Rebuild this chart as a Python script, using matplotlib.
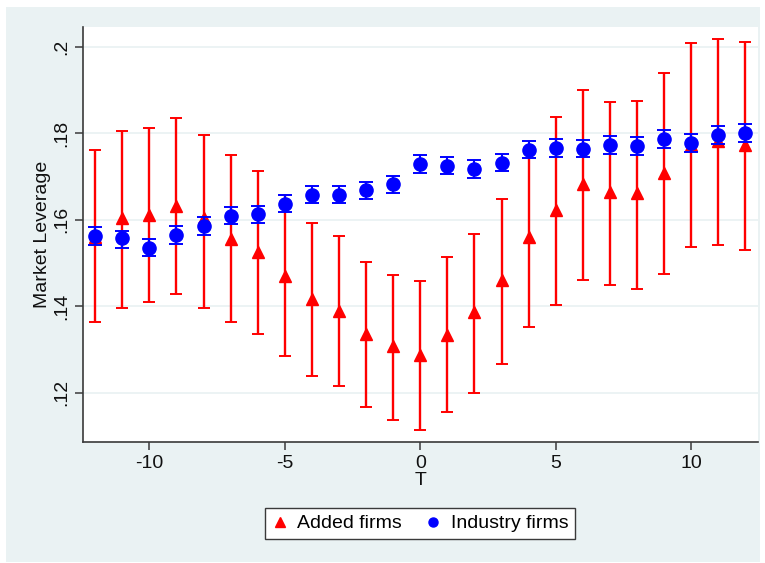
import numpy as np
import matplotlib.pyplot as plt
from matplotlib.lines import Line2D
from matplotlib.patches import Rectangle

plt.rcParams['font.family'] = ['Liberation Sans', 'DejaVu Sans']

# event time
t = list(range(-12, 13))

# added firms: mean and confidence band
added_mean = [0.1561, 0.1604, 0.1612, 0.1632, 0.1605, 0.1556, 0.1525, 0.1469,
              0.1417, 0.1390, 0.1336, 0.1307, 0.1288, 0.1334, 0.1386, 0.1460,
              0.1561, 0.1622, 0.1683, 0.1663, 0.1662, 0.1709, 0.1772, 0.1783, 0.1772]
added_hi = [0.1762, 0.1806, 0.1811, 0.1834, 0.1795, 0.1750, 0.1713, 0.1658,
            0.1592, 0.1563, 0.1503, 0.1472, 0.1459, 0.1514, 0.1567, 0.1648,
            0.1765, 0.1837, 0.1899, 0.1871, 0.1875, 0.1938, 0.2009, 0.2018, 0.2011]
added_lo = [0.1363, 0.1396, 0.1409, 0.1429, 0.1396, 0.1363, 0.1336, 0.1286,
            0.1239, 0.1215, 0.1168, 0.1138, 0.1115, 0.1155, 0.1199, 0.1266,
            0.1351, 0.1403, 0.1461, 0.1450, 0.1441, 0.1474, 0.1538, 0.1542, 0.1531]

# industry firms: mean and confidence band
ind_mean = [0.1563, 0.1557, 0.1535, 0.1565, 0.1586, 0.1609, 0.1613, 0.1637,
            0.1658, 0.1658, 0.1668, 0.1683, 0.1729, 0.1725, 0.1717, 0.1732,
            0.1762, 0.1766, 0.1764, 0.1773, 0.1770, 0.1787, 0.1777, 0.1796, 0.1800]
ind_hi = [0.1583, 0.1575, 0.1556, 0.1585, 0.1606, 0.1629, 0.1632, 0.1658,
          0.1677, 0.1677, 0.1687, 0.1702, 0.1749, 0.1745, 0.1737, 0.1752,
          0.1782, 0.1786, 0.1784, 0.1794, 0.1791, 0.1808, 0.1798, 0.1817, 0.1821]
ind_lo = [0.1542, 0.1535, 0.1515, 0.1543, 0.1564, 0.1589, 0.1593, 0.1617,
          0.1638, 0.1638, 0.1648, 0.1662, 0.1709, 0.1705, 0.1697, 0.1712,
          0.1742, 0.1746, 0.1744, 0.1752, 0.1749, 0.1765, 0.1756, 0.1775, 0.1779]

yticks = [0.12, 0.14, 0.16, 0.18, 0.2]
ytick_labels = ['.12', '.14', '.16', '.18', '.2']
xticks = [-10, -5, 0, 5, 10]

BG = '#EAF2F3'
AXC = '#3a3a3a'
FS = 14

fig = plt.figure(figsize=(7.65, 5.63), dpi=100, facecolor='white')
# graph region behind the plot area
region = Rectangle((6 / 765, 1 - 562 / 563), 754 / 765, 555 / 563,
                   transform=fig.transFigure, facecolor=BG,
                   edgecolor='none', zorder=-10)
fig.add_artist(region)
ax = fig.add_axes([83 / 765, 1 - 441.7 / 563, 674.5 / 765, 415 / 563])
ax.set_zorder(1)
ax.set_facecolor('white')

a_mean = np.array(added_mean)
a_err = [a_mean - np.array(added_lo), np.array(added_hi) - a_mean]
ax.errorbar(t, a_mean, yerr=a_err, fmt='^', color='red', ecolor='red',
            markersize=9, elinewidth=1.7, capsize=4.3, capthick=1.4, zorder=3)

i_mean = np.array(ind_mean)
i_err = [i_mean - np.array(ind_lo), np.array(ind_hi) - i_mean]
ax.errorbar(t, i_mean, yerr=i_err, fmt='o', color='blue', ecolor='blue',
            markersize=9.5, elinewidth=1.5, capsize=4.7, capthick=1.4, zorder=4)

ax.set_xlim(-12.45, 12.45)
ax.set_ylim(0.1087, 0.2046)
ax.set_xticks(xticks)
ax.set_xticklabels([str(v) for v in xticks])
ax.set_yticks(yticks)
ax.set_yticklabels(ytick_labels, rotation=90, va='center')
ax.grid(axis='y', color=BG, linewidth=1.3, zorder=0)
ax.set_axisbelow(True)

for side in ['top', 'right']:
    ax.spines[side].set_visible(False)
for side in ['left', 'bottom']:
    ax.spines[side].set_color(AXC)
    ax.spines[side].set_linewidth(1.2)
ax.tick_params(axis='both', colors=AXC, labelcolor='#111111', labelsize=FS,
               length=5.5, width=1.1, direction='out', pad=4)
ax.tick_params(axis='y', pad=4)

ax.set_xlabel('T', fontsize=FS, color='#111111', labelpad=0)
ax.set_ylabel('Market Leverage', fontsize=FS, color='#111111', labelpad=1)

handles = [
    Line2D([], [], linestyle='none', marker='^', color='red', markersize=7.5),
    Line2D([], [], linestyle='none', marker='o', color='blue', markersize=6.5),
]
leg = fig.legend(handles, ['Added firms', 'Industry firms'], ncol=2,
                 loc='center', bbox_to_anchor=(420 / 765, 1 - 523.5 / 563),
                 fontsize=FS, frameon=True, fancybox=False, edgecolor=AXC,
                 facecolor='white', framealpha=1,
                 handlelength=0.8, handletextpad=0.5, columnspacing=1.2,
                 borderpad=0.35, borderaxespad=0)
leg.get_frame().set_linewidth(1.0)

fig.savefig('out.png', dpi=100, facecolor='white')
